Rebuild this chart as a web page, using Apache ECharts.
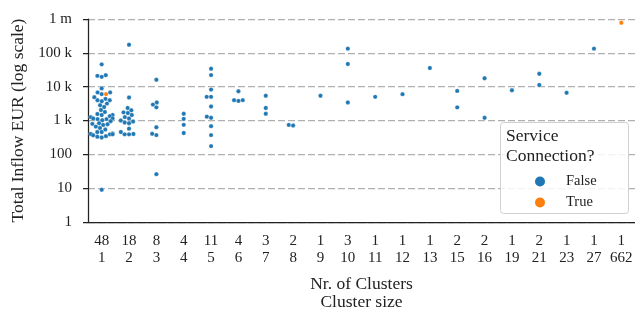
<!DOCTYPE html>
<html>
<head>
<meta charset="utf-8">
<script src="https://cdn.jsdelivr.net/npm/echarts@6/dist/echarts.min.js"></script>
<style>
html, body { margin: 0; padding: 0; background: #fff; }
#inflowChart { width: 635px; height: 312px; }
</style>
</head>
<body>
<div id="inflowChart"></div>
<script>
// categories: number of clusters / cluster size
var nrClusters = [48, 18, 8, 4, 11, 4, 3, 2, 1, 3, 1, 1, 1, 2, 2, 1, 2, 1, 1, 1];
var clusterSizes = [1, 2, 3, 4, 5, 6, 7, 8, 9, 10, 11, 12, 13, 15, 16, 19, 21, 23, 27, 662];

// total inflow (EUR) per cluster, Service Connection? = False
var inflowFalse = [
    [45700, 21900, 20900, 19500, 8900, 6760, 6760, 6030, 4900, 4370, 3980, 3980, 3720, 3160, 2820, 2510,
     2040, 1780, 1550, 1450, 1450, 1350, 1260, 1150, 1150, 1100, 1100, 1020, 955, 830, 795, 775, 740,
     660, 600, 540, 455, 455, 415, 400, 390, 390, 365, 345, 330, 315, 9],
    [174000, 4800, 2350, 2000, 1740, 1660, 1450, 1260, 1150, 1000, 935, 870, 830, 575, 455, 400, 390, 390],
    [16000, 3400, 2950, 2450, 630, 405, 370, 26],
    [1580, 1120, 745, 425],
    [34000, 22000, 8200, 5000, 5000, 2600, 1300, 1200, 680, 370, 175],
    [7300, 4000, 3800, 4000],
    [5400, 2350, 1580],
    [740, 710],
    [5400],
    [133000, 47000, 3400],
    [5000],
    [6000],
    [35700],
    [7500, 2450],
    [17700, 1200],
    [7800],
    [24000, 11200],
    [6600],
    [133000],
    []
];
// Service Connection? = True
var inflowTrue = [[6030], [], [], [], [], [], [], [], [], [], [], [], [], [], [], [], [], [], [], [776000]];

var yTickLabels = {1: '1', 10: '10', 100: '100', 1000: '1 k', 10000: '10 k', 100000: '100 k', 1000000: '1 m'};

var serif = 'Liberation Serif';
var dotSize = 4.4;

// beeswarm: place points (sorted by value) as close to the centre as possible without overlap
function swarmOffsets(pys, d, maxHalf) {
    var order = pys.map(function (p, i) { return i; });
    order.sort(function (a, b) { return pys[b] - pys[a]; });
    var xs = [];
    var placed = [];
    order.forEach(function (i) {
        var y = pys[i];
        var near = placed.filter(function (q) { return Math.abs(q.y - y) < d; });
        var cands = [0];
        near.forEach(function (q) {
            var dx = Math.sqrt(d * d - (q.y - y) * (q.y - y));
            cands.push(q.x - dx, q.x + dx);
        });
        cands.sort(function (a, b) { return Math.abs(a) - Math.abs(b); });
        var x = 0;
        for (var k = 0; k < cands.length; k++) {
            var ok = near.every(function (q) {
                var ddx = cands[k] - q.x, ddy = y - q.y;
                return ddx * ddx + ddy * ddy >= d * d - 1e-6;
            });
            if (ok) { x = cands[k]; break; }
        }
        placed.push({x: x, y: y});
        xs[i] = Math.max(-maxHalf, Math.min(maxHalf, x));
    });
    return xs;
}

function inflowSwarm() {
    var categories = nrClusters.map(function (n, i) { return n + '\n' + clusterSizes[i]; });

    var option = {
        animation: false,
        backgroundColor: '#fff',
        textStyle: { fontFamily: serif },
        grid: { left: 88, right: 0, top: 19, bottom: 90, outerBoundsMode: 'none', containLabel: false },
        title: {
            text: 'Service\nConnection?',
            left: 506,
            top: 126,
            padding: 0,
            textStyle: { fontFamily: serif, fontSize: 17.5, fontWeight: 'normal', color: '#222', lineHeight: 20 },
            z: 10
        },
        legend: {
            orient: 'vertical',
            left: 533,
            top: 173,
            padding: 0,
            itemGap: 4,
            itemWidth: 12,
            itemHeight: 12,
            icon: 'circle',
            data: ['False', 'True'],
            textStyle: { fontFamily: serif, fontSize: 14.5, color: '#222', padding: [0, 0, 0, 15], lineHeight: 17 },
            z: 10
        },
        graphic: [{
            type: 'rect',
            z: 3,
            shape: { x: 500.5, y: 122.5, width: 128, height: 91, r: 3 },
            style: { fill: 'rgba(255,255,255,0.85)', stroke: '#d0d0d0', lineWidth: 1 }
        }],
        xAxis: [{
            type: 'category',
            data: categories,
            boundaryGap: true,
            name: 'Nr. of Clusters\nCluster size',
            nameLocation: 'middle',
            nameGap: 53,
            nameTextStyle: { fontFamily: serif, fontSize: 17.5, color: '#222', lineHeight: 18 },
            axisLine: { onZero: false, lineStyle: { color: '#222', width: 1.25 } },
            axisTick: { alignWithLabel: true, length: 5, lineStyle: { color: '#222', width: 1.25 } },
            axisLabel: { margin: 11, fontFamily: serif, fontSize: 15, color: '#222', lineHeight: 17, interval: 0 },
            splitLine: { show: false }
        }, {
            type: 'value',
            show: false,
            min: -0.5,
            max: 19.5
        }],
        yAxis: {
            type: 'log',
            logBase: 10,
            min: 1,
            max: 1000000,
            interval: 1,
            name: 'Total Inflow EUR (log scale)',
            nameLocation: 'middle',
            nameGap: 61,
            nameTextStyle: { fontFamily: serif, fontSize: 17.5, color: '#222' },
            axisLine: { show: true, onZero: false, lineStyle: { color: '#222', width: 1.25 } },
            axisTick: { show: true, length: 5, lineStyle: { color: '#222', width: 1.25 } },
            axisLabel: {
                margin: 16,
                fontFamily: serif,
                fontSize: 15,
                color: '#222',
                formatter: function (v) { return yTickLabels[Math.round(v)] || ''; }
            },
            splitLine: { show: true, lineStyle: { color: '#b0b0b0', width: 1.25, type: [7, 3] } }
        },
        series: [
            { name: 'False', type: 'scatter', xAxisIndex: 1, data: [] },
            { name: 'True', type: 'scatter', xAxisIndex: 1, data: [] }
        ]
    };

    var chart = echarts.init(document.getElementById('inflowChart'));
    chart.setOption(option);

    var band = chart.convertToPixel({xAxisIndex: 1}, 1) - chart.convertToPixel({xAxisIndex: 1}, 0);
    var falseData = [];
    var trueData = [];

    for (var i = 0; i < nrClusters.length; i++) {
        var pts = [];
        inflowFalse[i].forEach(function (v) { pts.push({v: v, hue: false}); });
        inflowTrue[i].forEach(function (v) { pts.push({v: v, hue: true}); });
        var pys = pts.map(function (p) { return chart.convertToPixel({yAxisIndex: 0}, p.v); });
        var offs = swarmOffsets(pys, dotSize, band * 0.4);
        pts.forEach(function (p, k) {
            var item = [i + offs[k] / band, p.v];
            if (p.hue) trueData.push(item); else falseData.push(item);
        });
    }

    chart.setOption({
        series: [
            {
                name: 'False', type: 'scatter', xAxisIndex: 1, symbolSize: dotSize, z: 2,
                itemStyle: { color: '#1f77b4', borderColor: '#fff', borderWidth: 0.3, opacity: 1 },
                data: falseData
            },
            {
                name: 'True', type: 'scatter', xAxisIndex: 1, symbolSize: dotSize, z: 2,
                itemStyle: { color: '#ff7f0e', borderColor: '#fff', borderWidth: 0.3, opacity: 1 },
                data: trueData
            }
        ]
    });
}

inflowSwarm();
</script>
</body>
</html>
